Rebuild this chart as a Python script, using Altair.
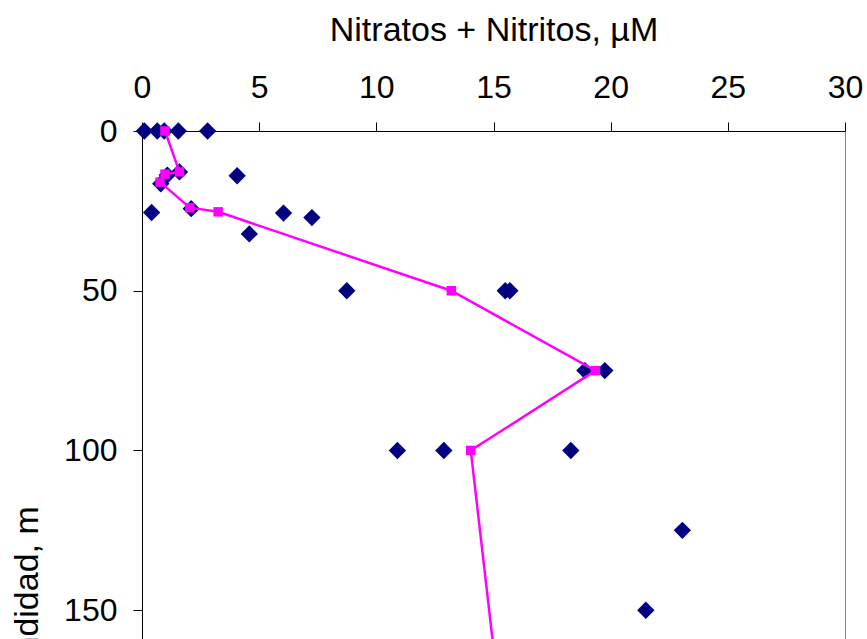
import altair as alt
import pandas as pd

# Individual samples: nitrate + nitrite (µM) and depth (m)
obs_no3 = [0.1, 0.65, 0.95, 1.55, 2.8,
           1.6, 4.06, 1.08, 0.8,
           0.41, 2.1, 6.04, 7.25, 4.58,
           8.74, 15.5, 15.7,
           18.9, 19.75,
           10.9, 12.88, 18.3,
           23.06, 21.5]
obs_depth = [0, 0, 0, 0, 0,
             12.8, 14, 13.8, 16.5,
             25.5, 24.3, 25.7, 27.1, 32.2,
             50, 50, 50,
             75, 75,
             100, 100, 100,
             125, 150]

# Mean profile
mean_no3 = [0.98, 1.6, 0.98, 0.77, 2.04, 3.25, 13.2, 19.35, 14.03, 15.6]
mean_depth = [0, 12.8, 13.5, 16, 24, 25.3, 50, 75, 100, 200]

x_ticks = [0, 5, 10, 15, 20, 25, 30]
y_ticks = [0, 50, 100, 150]

obs = pd.DataFrame({"no3": obs_no3, "depth": obs_depth})
prof = pd.DataFrame({"no3": mean_no3, "depth": mean_depth,
                     "order": list(range(len(mean_no3)))})

FONT = "Liberation Sans"

common_axis = dict(
    grid=False, tickSize=9, domainColor="black", tickColor="black",
    labelColor="black", titleColor="black", labelFont=FONT, titleFont=FONT,
    labelFontSize=32, titleFontSize=34, titleFontWeight="normal",
    labelFlush=False,
)

x_enc = alt.X(
    "no3:Q",
    scale=alt.Scale(domain=[0, 30], nice=False, zero=False),
    axis=alt.Axis(
        orient="top", title="Nitratos + Nitritos, µM", values=x_ticks,
        labelPadding=25, labelBaseline="alphabetic",
        titleBaseline="alphabetic", titleY=-91, **common_axis,
    ),
)
y_enc = alt.Y(
    "depth:Q",
    scale=alt.Scale(domain=[0, 159], reverse=True, nice=False, zero=False),
    axis=alt.Axis(
        title="Profundidad, m", values=y_ticks,
        labelPadding=16, titleAngle=270, titleX=-105, titleY=490,
        titleBaseline="alphabetic", titleAlign="center", **common_axis,
    ),
)

points = alt.Chart(obs).mark_point(
    shape="diamond", filled=True, color="#000080", size=300, opacity=1
).encode(x=x_enc, y=y_enc)

line = alt.Chart(prof).mark_line(
    color="#FF00FF", strokeWidth=2.5
).encode(x="no3:Q", y="depth:Q", order="order:Q")

squares = alt.Chart(prof).mark_point(
    shape="square", filled=True, color="#FF00FF", size=90, opacity=1
).encode(x="no3:Q", y="depth:Q")

chart = (
    alt.layer(points, line, squares)
    .properties(
        width=703, height=508,
        background="white",
        autosize=alt.AutoSizeParams(type="none"),
        padding={"left": 142, "top": 131, "right": 22, "bottom": 0},
    )
    .configure_view(stroke="#808080", strokeWidth=1)
)

chart.save("out.html", embed_options={"renderer": "svg", "actions": False})
